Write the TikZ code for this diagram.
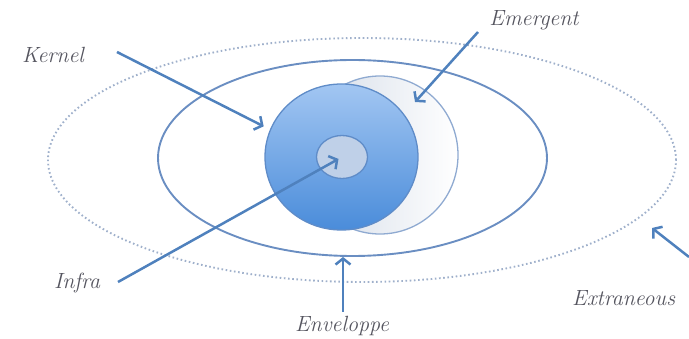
\documentclass[tikz,border=0pt]{standalone}
\usepackage{tikz}
\usetikzlibrary{shapes.geometric,arrows.meta,positioning,calc}
\definecolor{dotblue}{HTML}{9FB0CB}
\definecolor{ringblue}{HTML}{6A8EC2}
\definecolor{arrowblue}{HTML}{4F81BD}
\definecolor{kerneltop}{HTML}{A2C6F2}
\definecolor{kernelbot}{HTML}{4A8CDA}
\definecolor{kernelline}{HTML}{5F8CC8}
\definecolor{shadowgrey}{HTML}{D3DBE7}
\definecolor{infrafill}{HTML}{BFD0E8}
\definecolor{inkgrey}{HTML}{55555F}

\begin{document}
\begin{tikzpicture}[x=1pt, y=-1pt,
    zone/.style={ellipse, draw, inner sep=0pt},
    word/.style={font=\itshape\fontsize{22}{24}\selectfont, text=inkgrey, inner sep=0pt},
    arrow/.style={-{Straight Barb[length=6pt,width=15pt]}, line width=2.5pt, arrowblue}
]
    \useasboundingbox (0,0) rectangle (689,339);

    % Extraneous: dotted outer ring
    \node[zone, draw=dotblue, line width=1.9pt, dash pattern=on 1.6pt off 2.6pt,
        minimum width=628pt, minimum height=244pt] (extraneous) at (362,160) {};

    % Enveloppe
    \node[zone, draw=ringblue, line width=1.9pt,
        minimum width=389pt, minimum height=196pt] (envelope) at (352.5,158) {};

    % Emergent, half hidden behind the kernel
    \node[zone, draw=ringblue!75, line width=1.3pt, left color=shadowgrey, middle color=shadowgrey, right color=white,
        minimum width=156pt, minimum height=158pt] (emergent) at (380,155) {};

    % Kernel
    \node[zone, draw=kernelline, line width=1.3pt, top color=kerneltop, bottom color=kernelbot,
        minimum width=153pt, minimum height=146pt] (kernel) at (341.5,157) {};

    % Infra
    \node[zone, draw=kernelline, line width=1.3pt, fill=infrafill,
        minimum width=51pt, minimum height=43pt] (infra) at (342,157) {};

    % Labels
    \node[word] (kerneltext) at (53,55) {Kernel};
    \node[word] (emergenttext) at (534,20) {Emergent};
    \node[word] (infratext) at (77,283) {Infra};
    \node[word] (envelopetext) at (342,326) {Enveloppe};
    \node[word, anchor=west] (extraneoustext) at (572,298) {Extraneous};

    % Arrow ends
    \coordinate (kernelfrom) at (117,52);
    \coordinate (emergentfrom) at (478,32);
    \coordinate (emergentto) at (415,102);
    \coordinate (infrafrom) at (118,282);
    \coordinate (envelopefrom) at (343,312);
    \coordinate (extraneousfrom) at (689,257);
    \coordinate (extraneousto) at (652,228);

    % Arrows
    \draw[arrow, shorten >=7pt] (kernelfrom) -- (kernel.159);
    \draw[arrow] (emergentfrom) -- (emergentto);
    \draw[arrow, shorten >=4pt] (infrafrom) -- (infra.center);
    \draw[arrow] (envelopefrom) -- (envelopefrom |- envelope.south);
    \draw[arrow] (extraneousfrom) -- (extraneousto);
\end{tikzpicture}
\end{document}
